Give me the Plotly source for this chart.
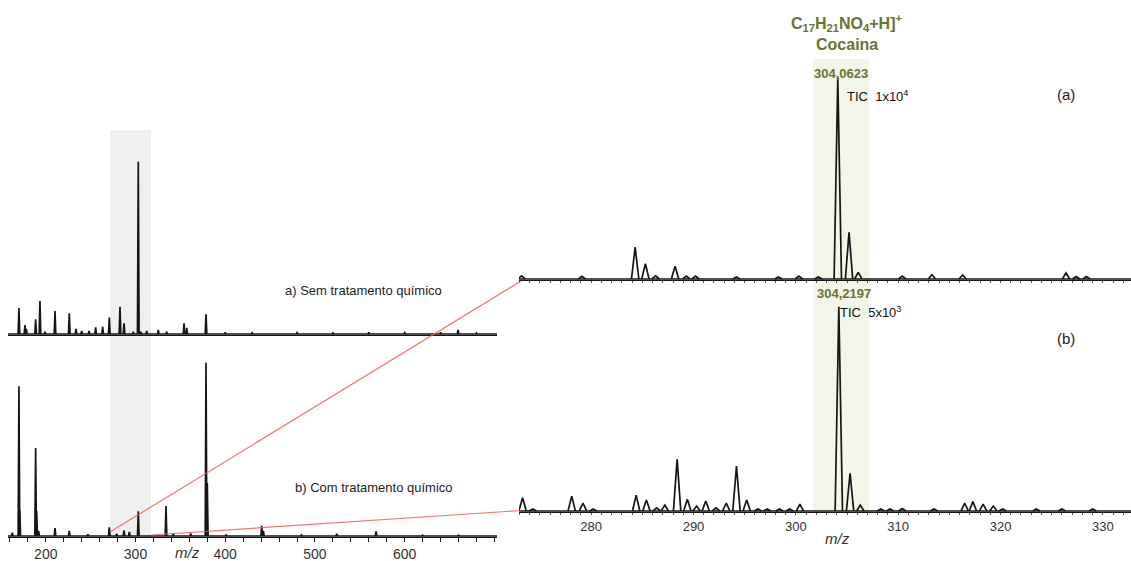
import plotly.graph_objects as go

W, H = 1131, 561

# ---------------- data (m/z, relative intensity %) ----------------
# a) Sem tratamento químico – full scan
tl_mz = [170.1, 176.8, 178.3, 188.7, 193.5, 199.1, 210.3, 226.2, 233.7, 240.0, 248.2,
         255.6, 263.4, 270.8, 282.7, 287.2, 297.5, 303.1, 306.0, 312.5, 325.4, 334.8,
         354.1, 357.1, 378.6, 400.0, 430.0, 480.0, 520.0, 560.0, 600.0, 640.0, 659.5, 680.0]
tl_int = [15.1, 5.2, 3.0, 8.5, 19.2, 1.2, 13.3, 12.0, 2.9, 1.7, 1.7,
          3.9, 4.2, 9.5, 15.8, 6.2, 1.2, 100.0, 1.2, 1.7, 2.3, 1.2,
          6.2, 3.5, 11.4, 1.0, 0.7, 0.8, 0.6, 0.9, 0.8, 0.9, 2.3, 0.6]

# b) Com tratamento químico – full scan
bl_mz = [162.7, 170.1, 171.0, 188.7, 189.8, 192.0, 210.3, 226.2, 247.0, 270.8, 279.0,
         287.2, 293.1, 303.1, 334.0, 342.1, 361.5, 378.6, 380.0, 401.0, 440.7, 442.5,
         485.0, 524.3, 568.1, 620.0, 660.0]
bl_int = [1.9, 86.4, 14.8, 50.8, 14.4, 2.9, 4.6, 2.9, 1.0, 5.0, 1.2,
          3.3, 2.3, 14.3, 17.3, 1.2, 1.4, 100.0, 30.6, 0.6, 5.8, 2.9,
          0.6, 1.2, 2.7, 0.5, 0.5]

# (a) zoom 273-333
tr_mz = [273.2, 279.1, 284.3, 285.3, 286.3, 288.2, 289.3, 290.2, 294.2, 298.3, 300.3,
         302.2, 304.1, 305.2, 306.1, 310.4, 313.3, 316.3, 326.4, 327.4, 328.4]
tr_int = [1.6, 1.3, 15.9, 7.6, 1.6, 6.3, 1.5, 1.5, 1.0, 1.0, 1.5,
          1.0, 100.0, 23.2, 3.3, 1.5, 2.1, 2.0, 3.0, 1.2, 1.2]

# (b) zoom 273-333
br_mz = [273.3, 274.3, 278.1, 279.2, 280.2, 284.4, 285.4, 286.4, 287.2, 288.4, 289.4,
         290.3, 291.2, 292.2, 293.2, 294.2, 295.2, 296.3, 297.2, 298.4, 299.4, 300.4,
         304.2, 305.3, 306.3, 308.3, 309.2, 310.4, 313.5, 316.5, 317.3, 318.3, 319.3,
         320.2, 323.5, 326.0, 329.0]
br_int = [6.5, 1.0, 7.3, 3.8, 1.0, 7.8, 5.4, 1.5, 2.9, 25.3, 5.7,
          2.4, 4.9, 1.5, 3.8, 22.0, 5.4, 1.0, 1.0, 1.0, 1.0, 3.3,
          100.0, 18.5, 2.9, 1.0, 1.0, 1.2, 1.0, 3.8, 4.6, 3.4, 2.4,
          1.0, 1.0, 1.0, 1.0]

left_ticks = [200, 300, 400, 500, 600]
right_ticks = [280, 290, 300, 310, 320, 330]

LEFT_RANGE = [157.9, 702.9]
RIGHT_RANGE = [272.95, 332.75]
GRAY_BAND = [271.6, 317.3]
GREEN_BAND = [301.67, 307.14]

# ---------------- helpers ----------------
def fx(p):
    return p / W

def fy(p):
    return 1 - p / H

def peaks(mz, inten, w):
    xs, ys = [], []
    for m, h in zip(mz, inten):
        xs += [m - w, m, m + w, None]
        ys += [0, h, 0, None]
    return xs, ys

fig = go.Figure()
INK = "#151515"

panels = [
    ("x", "y", tl_mz, tl_int, 0.9, LEFT_RANGE, 1.7),
    ("x2", "y2", bl_mz, bl_int, 0.9, LEFT_RANGE, 1.7),
    ("x3", "y3", tr_mz, tr_int, 0.36, RIGHT_RANGE, 1.7),
    ("x4", "y4", br_mz, br_int, 0.36, RIGHT_RANGE, 1.7),
]
for xa, ya, mz, it, w, rng, lw in panels:
    fig.add_trace(go.Scatter(x=rng, y=[0, 0], xaxis=xa, yaxis=ya, mode="lines",
                             line=dict(color=INK, width=1.3), hoverinfo="skip",
                             showlegend=False))
    xs, ys = peaks(mz, it, w)
    fig.add_trace(go.Scatter(x=xs, y=ys, xaxis=xa, yaxis=ya, mode="lines",
                             line=dict(color=INK, width=lw), connectgaps=False,
                             showlegend=False))

FONT = "Liberation Sans, Arial, sans-serif"

def xaxis_common(dom, rng):
    return dict(domain=dom, range=rng, showgrid=False, zeroline=False,
                showline=True, linecolor=INK, linewidth=1, fixedrange=True)

ldom = [fx(8), fx(497)]
rdom = [fx(519), 1.0]
TICKGRAY = "#555"

fig.update_layout(
    width=W, height=H, margin=dict(l=0, r=0, t=0, b=0),
    paper_bgcolor="white", plot_bgcolor="rgba(0,0,0,0)",
    font=dict(family=FONT, color="#222"),
    xaxis=dict(**xaxis_common(ldom, LEFT_RANGE), anchor="y", showticklabels=False, ticks=""),
    yaxis=dict(domain=[fy(335), fy(140)], range=[-0.58, 112.6], visible=False, anchor="x"),
    xaxis2=dict(**xaxis_common(ldom, LEFT_RANGE), anchor="y2", tickvals=left_ticks,
                ticks="outside", ticklen=4, tickwidth=1, tickcolor=INK,
                tickfont=dict(size=14, color="#333"),
                minor=dict(dtick=20, tick0=0, ticks="outside", ticklen=4, tickcolor=INK)),
    yaxis2=dict(domain=[fy(537), fy(345)], range=[-0.58, 110.2], visible=False, anchor="x2"),
    xaxis3=dict(**xaxis_common(rdom, RIGHT_RANGE), anchor="y3", showticklabels=False,
                ticks="outside", ticklen=2, dtick=1, tick0=0, tickcolor=TICKGRAY),
    yaxis3=dict(domain=[fy(280), fy(62)], range=[-0.5, 108.0], visible=False, anchor="x3"),
    xaxis4=dict(**xaxis_common(rdom, RIGHT_RANGE), anchor="y4", tickvals=right_ticks,
                ticks="outside", ticklen=2, tickwidth=1, tickcolor=TICKGRAY,
                tickfont=dict(size=13, color="#333"),
                minor=dict(dtick=1, tick0=0, ticks="outside", ticklen=2, tickcolor=TICKGRAY)),
    yaxis4=dict(domain=[fy(512), fy(300)], range=[-0.49, 103.3], visible=False, anchor="x4"),
)

# shaded bands
fig.add_shape(type="rect", xref="x", yref="paper", x0=GRAY_BAND[0], x1=GRAY_BAND[1],
              y0=fy(537), y1=fy(130), fillcolor="#efefef", line_width=0, layer="below")
fig.add_shape(type="rect", xref="x3", yref="paper", x0=GREEN_BAND[0], x1=GREEN_BAND[1],
              y0=fy(512), y1=fy(59), fillcolor="#f2f5e7", line_width=0, layer="below")

# red connector lines
RED = "rgba(240,90,90,0.85)"
fig.add_shape(type="line", xref="paper", yref="paper", x0=fx(110), y0=fy(532),
              x1=fx(521), y1=fy(281), line=dict(color=RED, width=1.2))
fig.add_shape(type="line", xref="paper", yref="paper", x0=fx(151), y0=fy(535),
              x1=fx(521), y1=fy(510.5), line=dict(color=RED, width=1.2))

OLIVE = "#6b7330"

def note(text, px, py, size, color="#222", xanchor="center", bold=False):
    if bold:
        text = "<b>" + text + "</b>"
    fig.add_annotation(text=text, x=fx(px), y=fy(py), xref="paper", yref="paper",
                       xanchor=xanchor, yanchor="middle", showarrow=False,
                       font=dict(size=size, color=color, family=FONT))

note("C<sub>17</sub>H<sub>21</sub>NO<sub>4</sub>+H]<sup>+</sup>", 846.7, 23, 16, OLIVE, bold=True)
note("Cocaina", 847, 45, 16, OLIVE, bold=True)
note("304,0623", 841, 73, 13, OLIVE, bold=True)
note("TIC  1x10<sup>4</sup>", 845, 96, 13, "#111", xanchor="left")
note("(a)", 1066, 95, 15, "#222")
note("304,2197", 843.7, 293, 13, OLIVE, bold=True)
note("TIC  5x10<sup>3</sup>", 838, 312, 13, "#111", xanchor="left")
note("(b)", 1066, 338, 15, "#222")
note("a) Sem tratamento químico", 363.5, 290, 13, "#222")
note("b) Com tratamento químico", 374, 487, 13, "#222")
note("<i>m/z</i>", 837.5, 538, 15, "#333")
note("<i>m/z</i>", 187.5, 552, 15, "#333")

fig.write_html("out.html")
